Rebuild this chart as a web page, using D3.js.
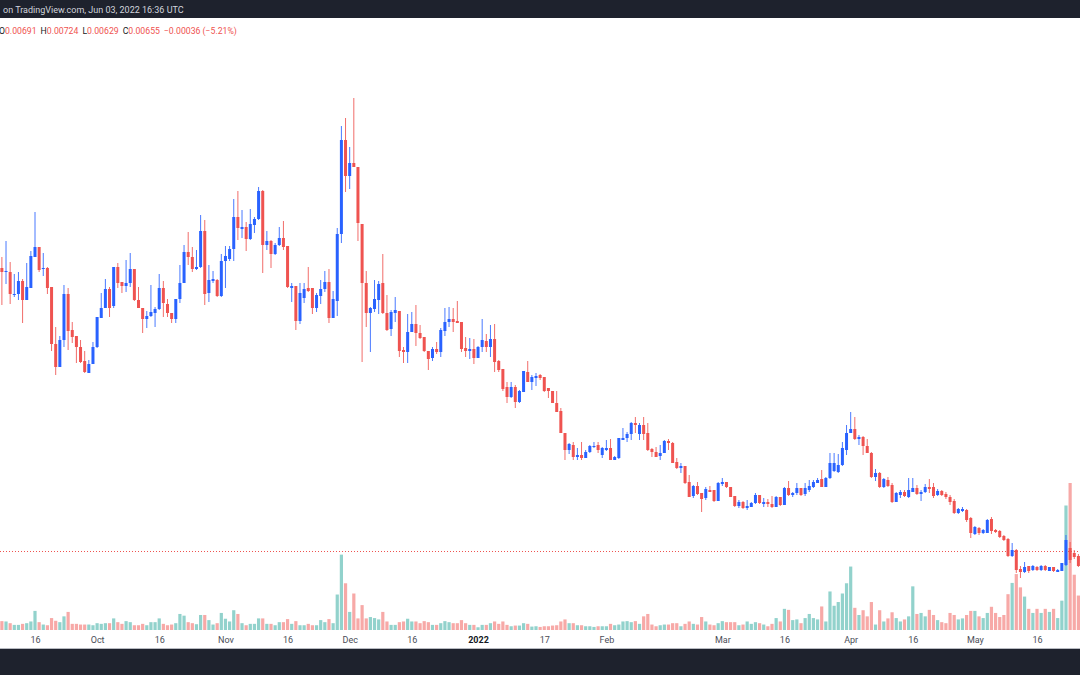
<!DOCTYPE html>
<html><head><meta charset="utf-8">
<script src="https://cdn.jsdelivr.net/npm/d3@7"></script>
<style>html,body{margin:0;padding:0;background:#fff;overflow:hidden}svg{display:block}</style>
</head><body>
<svg id="c" width="1080" height="675"></svg>
<script>
// first visible daily candle
const startDate = "2021-09-08";

const openP = [0.01221,0.01213,0.01213,0.01167,0.01169,0.01195,0.01157,0.01181,
0.01243,0.01263,0.01219,0.01221,0.01183,0.01069,0.01023,0.01077,0.01169,0.01097,
0.01085,0.01063,0.01035,0.01011,0.01029,0.01063,0.01121,0.01141,0.01179,0.01145,
0.01223,0.01193,0.01185,0.01191,0.01219,0.01157,0.01141,0.01119,0.01125,0.01131,
0.01139,0.01181,0.01149,0.01131,0.01119,0.01159,0.01191,0.01253,0.01243,0.01219,
0.01223,0.01295,0.01171,0.01195,0.01197,0.01165,0.01235,0.01239,0.01259,0.01323,
0.01299,0.01303,0.01279,0.01307,0.01319,0.01375,0.01267,0.01275,0.01249,0.01267,
0.01281,0.01265,0.01181,0.01185,0.01115,0.01161,0.01181,0.01181,0.01141,0.01165,
0.01179,0.01193,0.01121,0.01155,0.01289,0.01477,0.01405,0.01431,0.01423,0.01309,
0.01191,0.01131,0.01139,0.01157,0.01191,0.01131,0.01099,0.01131,0.01135,0.01057,
0.01053,0.01093,0.01109,0.01091,0.01083,0.01055,0.01041,0.01059,0.01053,0.01095,
0.01113,0.01119,0.01115,0.01113,0.01061,0.01055,0.01059,0.01041,0.01063,0.01075,
0.01063,0.01079,0.01035,0.01019,0.00983,0.00963,0.00983,0.00953,0.00973,0.01013,
0.00993,0.01001,0.01007,0.01003,0.00981,0.00975,0.00951,0.00935,0.00891,0.00857,
0.00867,0.00843,0.00847,0.00841,0.00853,0.00863,0.00867,0.00847,0.00857,0.00861,
0.00837,0.00841,0.00877,0.00881,0.00889,0.00911,0.00889,0.00907,0.00891,0.00859,
0.00853,0.00845,0.00851,0.00875,0.00871,0.00833,0.00821,0.00825,0.00793,0.00765,
0.00785,0.00771,0.00761,0.00777,0.00777,0.00755,0.00789,0.00793,0.00783,0.00765,
0.00745,0.00753,0.00741,0.00743,0.00751,0.00767,0.00749,0.00753,0.00749,0.00743,
0.00763,0.00747,0.00781,0.00767,0.00771,0.00781,0.00769,0.00777,0.00783,0.00791,
0.00799,0.00783,0.00801,0.00815,0.00813,0.00827,0.00857,0.00891,0.00899,0.00879,
0.00883,0.00865,0.00851,0.00803,0.00811,0.00783,0.00797,0.00787,0.00753,0.00767,
0.00773,0.00763,0.00773,0.00781,0.00769,0.00773,0.00783,0.00783,0.00767,0.00775,
0.00769,0.00763,0.00755,0.00731,0.00735,0.00737,0.00721,0.00689,0.00701,0.00691,
0.00691,0.00719,0.00697,0.00695,0.00685,0.00679,0.00645,0.00657,0.00619,0.00613,
0.00625,0.00617,0.00623,0.00617,0.00625,0.00615,0.00623,0.00613,0.00615,0.00627,
0.00661,0.00651,0.00645];

const highP = [0.01243,0.01275,0.01233,0.01209,0.01213,0.01199,0.01231,0.01255,
0.01333,0.01263,0.01251,0.01223,0.01183,0.01103,0.01085,0.01187,0.01181,0.01113,
0.01085,0.01077,0.01055,0.01037,0.01073,0.01123,0.01171,0.01199,0.01183,0.01223,
0.01231,0.01193,0.01237,0.01251,0.01219,0.01183,0.01141,0.01135,0.01187,0.01143,
0.01209,0.01195,0.01159,0.01131,0.01159,0.01227,0.01267,0.01293,0.01263,0.01257,
0.01327,0.01317,0.01227,0.01215,0.01199,0.01249,0.01265,0.01265,0.01359,0.01375,
0.01337,0.01313,0.01339,0.01323,0.01383,0.01377,0.01295,0.01277,0.01271,0.01303,
0.01315,0.01265,0.01191,0.01185,0.01191,0.01191,0.01223,0.01181,0.01171,0.01197,
0.01215,0.01219,0.01175,0.01301,0.01505,0.01521,0.01463,0.01561,0.01423,0.01309,
0.01215,0.01143,0.01197,0.01195,0.01249,0.01167,0.01137,0.01163,0.01135,0.01063,
0.01129,0.01133,0.01147,0.01107,0.01083,0.01055,0.01063,0.01073,0.01101,0.01141,
0.01143,0.01141,0.01155,0.01113,0.01083,0.01081,0.01079,0.01065,0.01119,0.01089,
0.01107,0.01109,0.01037,0.01019,0.00993,0.00993,0.00987,0.00977,0.01015,0.01035,
0.01007,0.01011,0.01009,0.01003,0.00981,0.00975,0.00975,0.00941,0.00891,0.00871,
0.00873,0.00861,0.00873,0.00857,0.00867,0.00873,0.00873,0.00863,0.00877,0.00879,
0.00845,0.00881,0.00901,0.00893,0.00913,0.00923,0.00911,0.00923,0.00911,0.00861,
0.00863,0.00867,0.00877,0.00879,0.00873,0.00841,0.00831,0.00825,0.00807,0.00787,
0.00793,0.00771,0.00783,0.00785,0.00777,0.00793,0.00801,0.00793,0.00783,0.00765,
0.00757,0.00755,0.00757,0.00753,0.00771,0.00767,0.00761,0.00759,0.00765,0.00765,
0.00763,0.00783,0.00795,0.00773,0.00791,0.00781,0.00791,0.00797,0.00797,0.00801,
0.00817,0.00803,0.00851,0.00851,0.00849,0.00873,0.00907,0.00933,0.00923,0.00887,
0.00885,0.00879,0.00853,0.00819,0.00813,0.00801,0.00803,0.00791,0.00773,0.00777,
0.00777,0.00801,0.00801,0.00787,0.00777,0.00789,0.00799,0.00791,0.00779,0.00777,
0.00773,0.00767,0.00759,0.00741,0.00743,0.00739,0.00723,0.00705,0.00703,0.00699,
0.00719,0.00723,0.00699,0.00697,0.00687,0.00681,0.00671,0.00659,0.00625,0.00633,
0.00625,0.00627,0.00625,0.00627,0.00627,0.00623,0.00623,0.00619,0.00631,0.00687,
0.00673,0.00657,0.00649];

const lowP = [0.01147,0.01189,0.01149,0.01163,0.01157,0.01111,0.01157,0.01181,
0.01243,0.01213,0.01205,0.01169,0.01055,0.01007,0.01023,0.01063,0.01057,0.01071,
0.01031,0.01031,0.01011,0.01011,0.01029,0.01061,0.01121,0.01141,0.01123,0.01141,
0.01181,0.01171,0.01173,0.01183,0.01155,0.01141,0.01091,0.01101,0.01123,0.01103,
0.01137,0.01123,0.01123,0.01111,0.01111,0.01151,0.01191,0.01227,0.01213,0.01217,
0.01221,0.01147,0.01153,0.01191,0.01163,0.01163,0.01181,0.01235,0.01235,0.01277,
0.01281,0.01255,0.01277,0.01291,0.01317,0.01211,0.01257,0.01221,0.01247,0.01265,
0.01257,0.01181,0.01153,0.01097,0.01109,0.01151,0.01173,0.01129,0.01133,0.01149,
0.01173,0.01111,0.01121,0.01125,0.01271,0.01373,0.01379,0.01423,0.01275,0.01033,
0.01103,0.01053,0.01133,0.01129,0.01129,0.01095,0.01085,0.01113,0.01043,0.01031,
0.01031,0.01093,0.01065,0.01079,0.01053,0.01017,0.01035,0.01049,0.01043,0.01085,
0.01103,0.01093,0.01111,0.01053,0.01043,0.01039,0.01029,0.01041,0.01053,0.01053,
0.01043,0.01013,0.01013,0.00975,0.00951,0.00961,0.00941,0.00951,0.00973,0.00993,
0.00977,0.00985,0.00997,0.00973,0.00961,0.00951,0.00933,0.00891,0.00837,0.00849,
0.00837,0.00837,0.00837,0.00841,0.00851,0.00861,0.00851,0.00841,0.00855,0.00837,
0.00837,0.00839,0.00877,0.00873,0.00877,0.00891,0.00877,0.00877,0.00855,0.00843,
0.00843,0.00837,0.00851,0.00857,0.00831,0.00819,0.00811,0.00789,0.00763,0.00761,
0.00767,0.00733,0.00757,0.00773,0.00753,0.00755,0.00785,0.00781,0.00763,0.00743,
0.00741,0.00739,0.00737,0.00743,0.00749,0.00749,0.00743,0.00743,0.00741,0.00743,
0.00745,0.00747,0.00765,0.00763,0.00767,0.00765,0.00765,0.00773,0.00781,0.00791,
0.00783,0.00783,0.00799,0.00813,0.00811,0.00825,0.00847,0.00891,0.00877,0.00867,
0.00847,0.00851,0.00801,0.00795,0.00781,0.00781,0.00783,0.00751,0.00753,0.00761,
0.00763,0.00761,0.00773,0.00767,0.00755,0.00771,0.00771,0.00761,0.00765,0.00765,
0.00759,0.00747,0.00729,0.00729,0.00733,0.00713,0.00681,0.00687,0.00687,0.00689,
0.00691,0.00689,0.00691,0.00681,0.00675,0.00643,0.00643,0.00611,0.00601,0.00611,
0.00611,0.00615,0.00615,0.00615,0.00615,0.00615,0.00613,0.00613,0.00615,0.00625,
0.00631,0.00639,0.00623];

const closeP = [0.01213,0.01215,0.01169,0.01169,0.01195,0.01157,0.01183,0.01245,
0.01263,0.01217,0.01221,0.01181,0.01069,0.01023,0.01077,0.01169,0.01095,0.01083,
0.01063,0.01033,0.01013,0.01029,0.01063,0.01123,0.01141,0.01179,0.01141,0.01223,
0.01191,0.01185,0.01191,0.01219,0.01157,0.01141,0.01119,0.01125,0.01133,0.01139,
0.01181,0.01151,0.01131,0.01119,0.01159,0.01191,0.01253,0.01243,0.01219,0.01223,
0.01295,0.01169,0.01197,0.01199,0.01165,0.01235,0.01245,0.01259,0.01323,0.01301,
0.01303,0.01279,0.01309,0.01319,0.01375,0.01267,0.01275,0.01249,0.01267,0.01281,
0.01263,0.01183,0.01185,0.01115,0.01171,0.01179,0.01175,0.01141,0.01167,0.01179,
0.01193,0.01121,0.01159,0.01289,0.01477,0.01405,0.01431,0.01423,0.01311,0.01191,
0.01131,0.01141,0.01159,0.01189,0.01131,0.01097,0.01133,0.01137,0.01055,0.01053,
0.01093,0.01109,0.01091,0.01081,0.01055,0.01039,0.01059,0.01053,0.01097,0.01113,
0.01119,0.01113,0.01111,0.01059,0.01055,0.01059,0.01041,0.01063,0.01077,0.01063,
0.01079,0.01033,0.01017,0.00979,0.00963,0.00983,0.00953,0.00975,0.01015,0.00993,
0.01003,0.01005,0.01001,0.00975,0.00975,0.00951,0.00933,0.00891,0.00857,0.00869,
0.00843,0.00847,0.00841,0.00853,0.00865,0.00865,0.00857,0.00861,0.00861,0.00837,
0.00843,0.00881,0.00881,0.00889,0.00911,0.00907,0.00907,0.00889,0.00857,0.00853,
0.00843,0.00851,0.00875,0.00871,0.00831,0.00821,0.00825,0.00791,0.00763,0.00785,
0.00769,0.00759,0.00779,0.00773,0.00755,0.00791,0.00793,0.00783,0.00763,0.00745,
0.00753,0.00741,0.00745,0.00751,0.00767,0.00751,0.00753,0.00749,0.00743,0.00763,
0.00747,0.00781,0.00767,0.00771,0.00781,0.00767,0.00781,0.00785,0.00793,0.00797,
0.00783,0.00801,0.00831,0.00831,0.00827,0.00861,0.00891,0.00899,0.00879,0.00883,
0.00865,0.00851,0.00803,0.00811,0.00783,0.00799,0.00785,0.00753,0.00771,0.00773,
0.00765,0.00777,0.00781,0.00769,0.00773,0.00783,0.00779,0.00765,0.00775,0.00767,
0.00763,0.00753,0.00731,0.00739,0.00739,0.00717,0.00691,0.00703,0.00691,0.00697,
0.00717,0.00695,0.00693,0.00683,0.00677,0.00645,0.00657,0.00617,0.00613,0.00623,
0.00615,0.00625,0.00617,0.00625,0.00617,0.00623,0.00615,0.00617,0.00631,0.00677,
0.00637,0.00643,0.00625];

const volumeK = [26,25,20,15,15,18,20,25,
56,23,16,14,35,27,23,40,53,18,
18,16,16,16,14,20,18,20,20,34,
23,18,26,23,14,14,18,14,23,23,
34,18,14,16,20,47,42,23,20,17,
44,44,29,16,20,50,33,25,58,47,
20,14,18,18,34,34,18,18,14,23,
23,32,18,26,14,14,18,14,14,29,
23,32,20,104,221,137,53,107,34,73,
34,38,35,31,53,25,15,15,23,25,
33,25,25,20,26,23,15,15,20,26,
23,20,20,29,20,15,15,8,15,15,
20,25,18,25,15,11,13,13,20,18,
10,11,9,11,11,13,14,25,31,20,
20,14,14,11,11,9,11,11,11,18,
14,16,25,26,23,26,18,40,47,16,
11,14,16,16,20,20,11,18,25,18,
16,38,25,16,14,20,26,23,23,23,
14,16,25,18,23,20,16,11,18,35,
25,62,59,29,31,20,35,47,35,31,
69,25,113,71,82,107,137,186,65,44,
58,40,82,16,58,25,34,52,35,25,
31,40,128,47,50,40,59,44,29,23,
20,50,44,31,34,44,56,56,40,35,
50,68,50,38,44,105,138,164,125,98,
62,50,62,50,62,53,62,35,86,365,
431,162,101];

const tickDates = ["2021-09-16","2021-10-01","2021-10-16","2021-11-01","2021-11-16","2021-12-01","2021-12-16","2022-01-01","2022-01-17","2022-02-01","2022-03-01","2022-03-16","2022-04-01","2022-04-16","2022-05-01","2022-05-16"];
const tickLabels = ["16","Oct","16","Nov","16","Dec","16","2022","17","Feb","Mar","16","Apr","16","May","16"];

const headerText = "on TradingView.com, Jun 03, 2022 16:36 UTC";
const ohlcLabels = ["O","H","L","C"];
const ohlcValues = ["0.00691","0.00724","0.00629","0.00655"];
const changeText = "\u22120.00036 (\u22125.21%)";
const lastClose = 0.00655;

// ---------- drawing ----------
const W = 1080, H = 675;
const UP = "#2962ff", DOWN = "#ef5350";
const VUP = "rgba(38,166,154,0.5)", VDOWN = "rgba(239,83,80,0.5)";
const FONT = "Roboto, 'Liberation Sans', Arial, sans-serif";

const parse = d3.utcParse("%Y-%m-%d");
const t0 = parse(startDate);
const n = Math.min(openP.length, highP.length, lowP.length, closeP.length, volumeK.length);
const data = d3.range(n).map(i => ({
  date: d3.utcDay.offset(t0, i),
  o: openP[i], h: highP[i], l: lowP[i], c: closeP[i], v: volumeK[i]
}));

const svg = d3.select("#c");
svg.append("rect").attr("width", W).attr("height", H).attr("fill", "#ffffff");

const x = d3.scaleUtc()
  .domain([parse("2021-09-16"), parse("2022-05-16")])
  .range([35, 1037]);
const y = d3.scaleLinear().domain([0.00655, 0.01561]).range([551, 98]);
const yv = d3.scaleLinear().domain([0, 431]).range([630, 483]);

const plot = svg.append("g");

// volume
plot.append("g").selectAll("rect").data(data).join("rect")
  .attr("x", d => x(d.date) - 1.6)
  .attr("width", 3.2)
  .attr("y", d => yv(d.v))
  .attr("height", d => yv(0) - yv(d.v))
  .attr("fill", d => d.c >= d.o ? VUP : VDOWN);

// last price dotted line
plot.append("line")
  .attr("x1", 0).attr("x2", W)
  .attr("y1", Math.round(y(lastClose)) + 0.5).attr("y2", Math.round(y(lastClose)) + 0.5)
  .attr("stroke", DOWN).attr("stroke-width", 1)
  .attr("stroke-dasharray", "1 2");

// candles
const cg = plot.append("g").selectAll("g").data(data).join("g");
cg.append("line")
  .attr("x1", d => x(d.date)).attr("x2", d => x(d.date))
  .attr("y1", d => y(d.h)).attr("y2", d => y(d.l))
  .attr("stroke", d => d.c >= d.o ? UP : DOWN)
  .attr("stroke-opacity", 0.85)
  .attr("stroke-width", 1);
cg.append("rect")
  .attr("x", d => x(d.date) - 1.5)
  .attr("width", 3)
  .attr("y", d => y(Math.max(d.o, d.c)))
  .attr("height", d => Math.max(1, Math.abs(y(d.o) - y(d.c))))
  .attr("fill", d => d.c >= d.o ? UP : DOWN);

// x axis
const xAxis = d3.axisBottom(x)
  .tickValues(tickDates.map(parse))
  .tickFormat((d, i) => tickLabels[i])
  .tickSize(0).tickPadding(0);
const ax = svg.append("g").attr("transform", "translate(0,637)").call(xAxis);
ax.select(".domain").remove();
ax.selectAll("text")
  .attr("font-family", FONT).attr("font-size", 9)
  .attr("fill", (d, i) => tickLabels[i] === "2022" ? "#131722" : "#4a4d57")
  .attr("font-weight", (d, i) => tickLabels[i] === "2022" ? "bold" : "normal");

// bottom bar
svg.append("rect").attr("x", 0).attr("y", 648).attr("width", W).attr("height", 1).attr("fill", "#b8bbc2");
svg.append("rect").attr("x", 0).attr("y", 649).attr("width", W).attr("height", H - 649).attr("fill", "#1e222d");

// top bar
svg.append("rect").attr("x", 0).attr("y", 0).attr("width", W).attr("height", 18).attr("fill", "#1e222d");
svg.append("text").attr("x", 3).attr("y", 13)
  .attr("font-family", FONT).attr("font-size", 9).attr("fill", "#d1d4dc")
  .text(headerText);

// OHLC legend
const leg = svg.append("text").attr("x", -1).attr("y", 34)
  .attr("font-family", FONT).attr("font-size", 8.7);
ohlcLabels.forEach((lab, i) => {
  leg.append("tspan").attr("fill", "#131722").attr("dx", i === 0 ? 0 : 4).text(lab);
  leg.append("tspan").attr("fill", DOWN).text(ohlcValues[i]);
});
leg.append("tspan").attr("fill", DOWN).attr("dx", 4).text(changeText);
</script>
</body></html>
